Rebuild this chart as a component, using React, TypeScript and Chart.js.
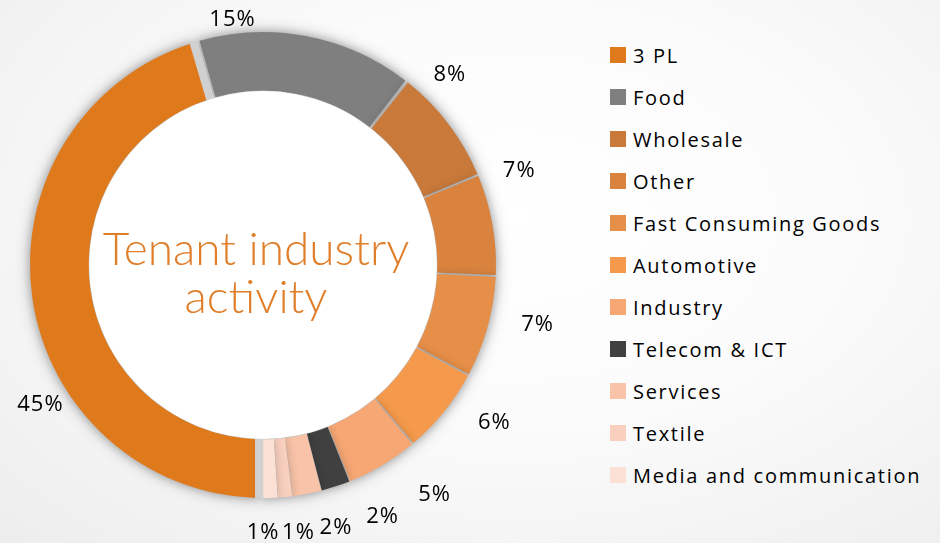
import React, { useEffect, useRef } from "react";
import { Chart, registerables } from "chart.js";

Chart.register(...registerables);

// ---- data ----
const categories = [
  "3 PL",
  "Food",
  "Wholesale",
  "Other",
  "Fast Consuming Goods",
  "Automotive",
  "Industry",
  "Telecom & ICT",
  "Services",
  "Textile",
  "Media and communication",
];
const shares = [45, 15, 8, 7, 7, 6, 5, 2, 2, 1, 1];
const centerTitle = ["Tenant industry", "activity"];

// ---- styles ----
const colors = [
  "#DF7A1C",
  "#7F7F7F",
  "#C97A3B",
  "#D9833F",
  "#E68F48",
  "#F59A4C",
  "#F6A774",
  "#404040",
  "#F8C3A8",
  "#F9D0BE",
  "#FBE0D5",
];
// label placement: angular shift from slice middle (deg) and distance beyond ring (px)
const labelShift = [-24, -18, -8.3, -10.2, -3.2, -4.8, -5.8, -7.2, -4.6, -2.1, 1.8];
const labelGap = [30, 14, 34, 40, 48, 47, 54, 46, 40, 37, 35];
const SPACING = 8;
const GAP_GRAY = "#d0d0d0";

function ringGeom(chart: any) {
  const arcs = chart.getDatasetMeta(0).data;
  const a = arcs[0];
  return {
    arcs,
    cx: a.x,
    cy: a.y,
    outer: a.outerRadius + SPACING / 2,
    inner: a.innerRadius + SPACING / 2,
  };
}

const decorPlugin = {
  id: "decor",
  beforeDatasetsDraw(chart: any) {
    const { cx, cy, outer, inner } = ringGeom(chart);
    const ctx = chart.ctx;
    ctx.save();
    ctx.shadowColor = "rgba(0,0,0,0.28)";
    ctx.shadowBlur = 16;
    ctx.fillStyle = GAP_GRAY;
    ctx.beginPath();
    ctx.arc(cx, cy, outer, 0, Math.PI * 2);
    ctx.arc(cx, cy, inner, Math.PI * 2, 0, true);
    ctx.closePath();
    ctx.fill();
    ctx.restore();
    ctx.save();
    ctx.shadowColor = "rgba(0,0,0,0.22)";
    ctx.shadowBlur = 10;
  },
  afterDatasetsDraw(chart: any) {
    const ctx = chart.ctx;
    ctx.restore();
    const { arcs, cx, cy, outer, inner } = ringGeom(chart);

    // wider separation on both ends of the largest slice
    const big = arcs[0];
    ctx.save();
    ctx.beginPath();
    ctx.arc(cx, cy, outer + 0.5, 0, Math.PI * 2);
    ctx.arc(cx, cy, inner - 0.5, Math.PI * 2, 0, true);
    ctx.closePath();
    ctx.clip();
    ctx.fillStyle = GAP_GRAY;
    [
      { ang: big.startAngle, dir: 1 },
      { ang: big.endAngle, dir: -1 },
    ].forEach(({ ang, dir }) => {
      ctx.save();
      ctx.translate(cx, cy);
      ctx.rotate(ang);
      const w = 8;
      ctx.fillRect(inner - 2, dir > 0 ? 0 : -w, outer - inner + 4, w);
      ctx.restore();
    });
    ctx.restore();

    // white hole
    ctx.save();
    ctx.fillStyle = "#ffffff";
    ctx.beginPath();
    ctx.arc(cx, cy, inner - 0.5, 0, Math.PI * 2);
    ctx.fill();
    ctx.restore();

    // percentage labels
    ctx.save();
    ctx.font = '22px "Open Sans", sans-serif';
    (ctx as any).letterSpacing = "1px";
    ctx.fillStyle = "#000000";
    ctx.textAlign = "center";
    ctx.textBaseline = "middle";
    arcs.forEach((arc: any, i: number) => {
      const mid = (arc.startAngle + arc.endAngle) / 2 + (labelShift[i] * Math.PI) / 180;
      const r = outer + labelGap[i];
      ctx.fillText(shares[i] + "%", cx + r * Math.cos(mid), cy + r * Math.sin(mid));
    });
    ctx.restore();

    // centre title
    ctx.save();
    ctx.font = '300 46px Lato, "Open Sans", sans-serif';
    ctx.fillStyle = "#E07E2A";
    ctx.textAlign = "center";
    ctx.textBaseline = "alphabetic";
    ctx.fillText(centerTitle[0], cx - 7, cy);
    ctx.fillText(centerTitle[1], cx - 7, cy + 48);
    ctx.restore();
  },
};

export default function App() {
  const ref = useRef<HTMLCanvasElement>(null);

  useEffect(() => {
    const canvas = ref.current;
    if (!canvas) return;
    const chart = new Chart(canvas, {
      type: "doughnut",
      data: {
        labels: categories,
        datasets: [
          {
            data: shares,
            backgroundColor: colors,
            borderWidth: 0,
            spacing: SPACING,
          } as any,
        ],
      },
      options: {
        responsive: false,
        animation: false,
        rotation: 180,
        cutout: "74.4%",
        radius: 229,
        layout: { padding: { left: 0, top: 0, right: 74, bottom: 13 } },
        plugins: {
          legend: { display: false },
          tooltip: { enabled: false },
        },
      } as any,
      plugins: [decorPlugin],
    });
    return () => chart.destroy();
  }, []);

  return (
    <div
      style={{
        position: "absolute",
        left: 0,
        top: 0,
        width: 940,
        height: 543,
        overflow: "hidden",
        background:
          "radial-gradient(ellipse at 55% 40%, #ffffff 0%, #fbfbfb 45%, #ededed 100%)",
      }}
    >
      <canvas
        ref={ref}
        width={600}
        height={543}
        style={{ position: "absolute", left: 0, top: 0, width: 600, height: 543 }}
      />
      <div
        style={{
          position: "absolute",
          left: 610,
          top: 34,
          fontFamily: '"Open Sans", sans-serif',
          fontSize: 20,
          letterSpacing: "1.7px",
          color: "#000",
        }}
      >
        {categories.map((c, i) => (
          <div
            key={c}
            style={{ display: "flex", alignItems: "center", height: 42, whiteSpace: "nowrap" }}
          >
            <span
              style={{
                display: "inline-block",
                width: 16,
                height: 16,
                background: colors[i],
                marginRight: 7,
                flex: "none",
              }}
            />
            <span>{c}</span>
          </div>
        ))}
      </div>
    </div>
  );
}
